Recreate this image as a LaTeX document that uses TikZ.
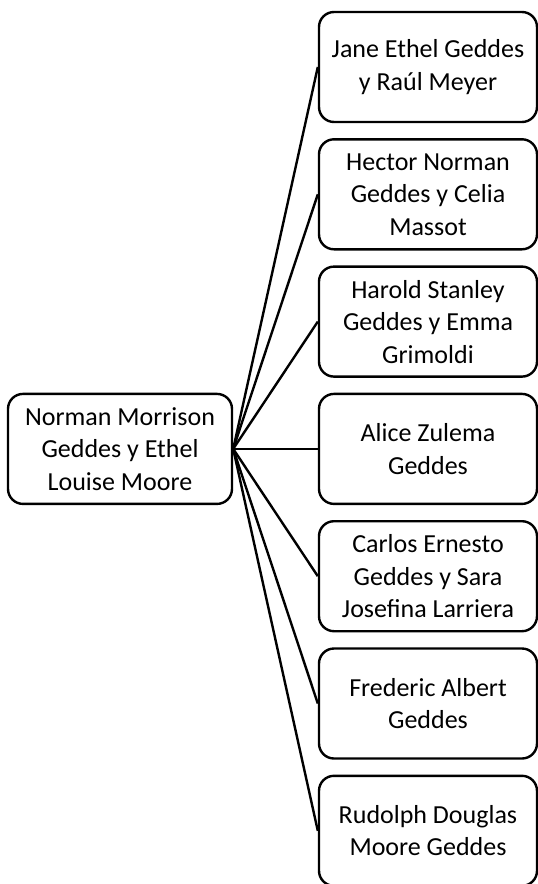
\documentclass[tikz,border=0pt]{standalone}
\usepackage{fontspec}
\setmainfont{Carlito}
\begin{document}
\begin{tikzpicture}[x=1pt,y=-1pt,
  person/.style={draw, line width=2.4pt, rounded corners=15pt, align=center,
    inner sep=0pt, font=\fontsize{26}{32.5}\selectfont},
  parentbox/.style={person, minimum width=224pt, minimum height=110pt},
  childbox/.style={person, minimum width=218pt, minimum height=110pt},
  link/.style={line width=2.4pt}]
\useasboundingbox (0,0) rectangle (538,884);
\node[parentbox] (p) at (120,448.9) {Norman Morrison\\Geddes y Ethel\\Louise Moore};
\node[childbox] (c1) at (428,67)    {Jane Ethel Geddes\\y Raúl Meyer};
\node[childbox] (c2) at (428,194.3) {Hector Norman\\Geddes y Celia\\Massot};
\node[childbox] (c3) at (428,321.6) {Harold Stanley\\Geddes y Emma\\Grimoldi};
\node[childbox] (c4) at (428,448.9) {Alice Zulema\\Geddes};
\node[childbox] (c5) at (428,576.2) {Carlos Ernesto\\Geddes y Sara\\Josefina Larriera};
\node[childbox] (c6) at (428,703.5) {Frederic Albert\\Geddes};
\node[childbox] (c7) at (428,830.8) {Rudolph Douglas\\Moore Geddes};
\foreach \c in {c1,c2,c3,c4,c5,c6,c7}
  \draw[link] (p.east) -- (\c.west);
\end{tikzpicture}
\end{document}
